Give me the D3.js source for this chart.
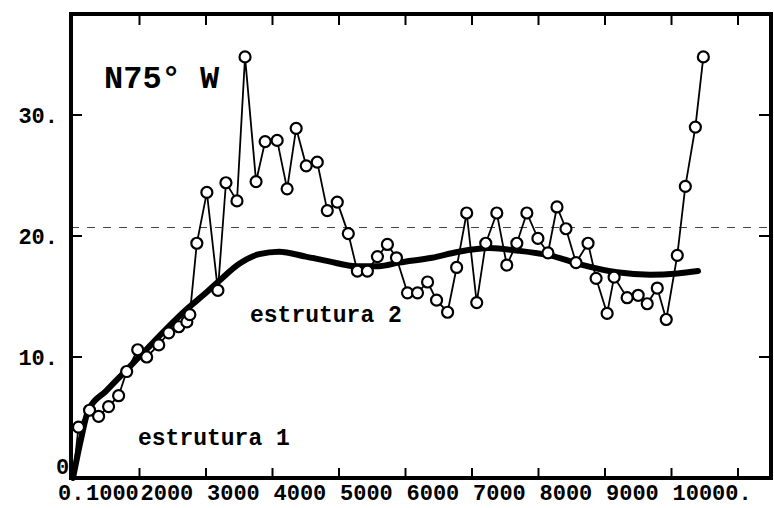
<!DOCTYPE html>
<html><head><meta charset="utf-8">
<script src="https://cdn.jsdelivr.net/npm/d3@7/dist/d3.min.js"></script>
<style>body{margin:0;background:#fff}</style>
</head><body><svg id="c" width="774" height="508"></svg>
<script>
// experimental semivariogram (lag, gamma)
const lags = [83,249,385,535,686,807,973,1108,1289,1440,1591,1712,1757,1862,2013,2179,2300,2466,2587,2753,2889,3070,3220,3356,3507,3673,3824,3974,4140,4276,4427,4578,4728,4864,5030,5181,5332,5467,5633,5769,5920,6071,6207,6373,6523,6674,6825,6991,7142,7278,7413,7564,7745,7866,8032,8137,8333,8499,8635,8786,8921,9087,9208,9359,9479];
const gamma = [4.2,5.6,5.1,5.9,6.8,8.8,10.6,10.0,11.0,12.0,12.5,12.9,13.5,19.4,23.6,15.5,24.4,22.9,34.8,24.5,27.8,27.9,23.9,28.9,25.8,26.1,22.1,22.8,20.2,17.1,17.1,18.3,19.3,18.2,15.3,15.3,16.2,14.7,13.7,17.4,21.9,14.5,19.4,21.9,17.6,19.4,21.9,19.8,18.6,22.4,20.6,17.8,19.4,16.5,13.6,16.6,14.9,15.1,14.4,15.7,13.1,18.4,24.1,29.0,34.8];
// fitted nested model
const modelLags = [0,120,230,500,800,1100,1400,1700,2000,2200,2500,2800,3100,3500,3850,4260,4600,4900,5400,5800,6270,6670,7170,7670,8180,8680,9090,9400];
const modelGamma = [0,3.2,5.6,7.2,8.9,10.6,12.3,13.9,15.3,16.3,17.7,18.5,18.7,18.3,17.9,17.5,17.5,17.8,18.2,18.7,19.0,18.8,18.4,17.6,17.0,16.8,16.9,17.1];
const sill = 20.7;
const xTicks = [1000,2000,3000,4000,5000,6000,7000,8000,9000,10000];
const xTickLabels = ["1000","2000","3000","4000","5000","6000","7000","8000","9000","10000."];
const yTicks = [10,20,30];
const yTickLabels = ["10.","20.","30."];
const title = "N75° W";
const structLabels = ["estrutura 1","estrutura 2"];

const svg = d3.select("#c");
const L = 71, T = 14, R = 771, B = 478;
const x = d3.scaleLinear().domain([0,10000]).range([73,738]);
const y = d3.scaleLinear().domain([0,30]).range([478,115]);
const font = "'Liberation Mono', 'DejaVu Sans Mono', monospace";

// dashed sill line
svg.append("line").attr("x1",L).attr("x2",R).attr("y1",y(sill)).attr("y2",y(sill))
  .attr("stroke","#444").attr("stroke-width",1.1).attr("stroke-dasharray","8,8");

// ticks (inward)
const tk = svg.append("g").attr("stroke","#000").attr("stroke-width",2);
xTicks.forEach(v=>{
  tk.append("line").attr("x1",x(v)).attr("x2",x(v)).attr("y1",T).attr("y2",T+11);
  tk.append("line").attr("x1",x(v)).attr("x2",x(v)).attr("y1",B).attr("y2",B-10);
});
yTicks.forEach(v=>{
  tk.append("line").attr("x1",L).attr("x2",L+11).attr("y1",y(v)).attr("y2",y(v));
  tk.append("line").attr("x1",R).attr("x2",R-12).attr("y1",y(v)).attr("y2",y(v));
});

// model curve
svg.append("path").datum(modelLags.map((l,i)=>[l,modelGamma[i]]))
  .attr("d", d3.line().x(d=>x(d[0])).y(d=>y(d[1])).curve(d3.curveMonotoneX))
  .attr("fill","none").attr("stroke","#000").attr("stroke-width",6).attr("stroke-linecap","round");

// experimental line
const pts = lags.map((l,i)=>[l,gamma[i]]);
svg.append("path").datum([[0,0]].concat(pts))
  .attr("d", d3.line().x(d=>x(d[0])).y(d=>y(d[1])))
  .attr("fill","none").attr("stroke","#000").attr("stroke-width",1.8);
svg.append("g").selectAll("circle").data(pts).join("circle")
  .attr("cx",d=>x(d[0])).attr("cy",d=>y(d[1])).attr("r",5.5)
  .attr("fill","#fff").attr("stroke","#000").attr("stroke-width",2.2);

// frame
svg.append("rect").attr("x",L).attr("y",T).attr("width",R-L).attr("height",B-T)
  .attr("fill","none").attr("stroke","#000").attr("stroke-width",4);

// tick labels
const tl = svg.append("g").attr("font-family",font).attr("font-weight","bold").attr("font-size",22).attr("fill","#000");
xTicks.forEach((v,i)=>{
  tl.append("text").attr("x",x(v-1000)+ (i===0?13:1)).attr("y",500).text(xTickLabels[i]);
});
tl.append("text").attr("x",58).attr("y",500).text("0.");
yTicks.forEach((v,i)=>{
  tl.append("text").attr("x",58).attr("y",y(v)+8).attr("text-anchor","end").text(yTickLabels[i]);
});
tl.append("text").attr("x",56).attr("y",474).text("0");

// annotations
const an = svg.append("g").attr("font-family",font).attr("font-weight","bold").attr("fill","#000");
an.append("text").attr("x",104).attr("y",88).attr("font-size",32).text(title);
an.append("text").attr("x",138).attr("y",445).attr("font-size",23).text(structLabels[0]);
an.append("text").attr("x",250).attr("y",322).attr("font-size",23).text(structLabels[1]);
</script></body></html>
